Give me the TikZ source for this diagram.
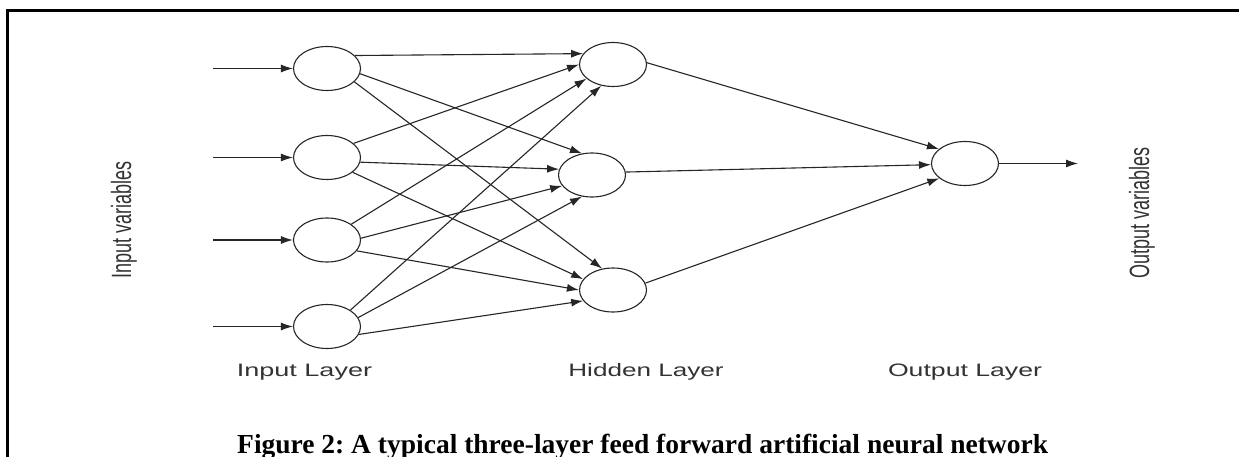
\documentclass[tikz,border=0pt]{standalone}
\usepackage{fontspec}
\usepackage{graphicx}
\setmainfont{Liberation Serif}
\newfontfamily\labfont{Liberation Sans}
\usetikzlibrary{arrows.meta,shapes.geometric}
\frenchspacing
\begin{document}
\begin{tikzpicture}[x=1pt,y=-1pt,
  neuron/.style={draw=black!85, line width=1.1pt, ellipse, minimum width=67pt, minimum height=44pt, inner sep=0pt},
  conn/.style={draw=black!85, line width=1.1pt, -{Latex[length=12pt,width=8pt]}},
  laylabel/.style={anchor=base, inner sep=0pt, font=\labfont\fontsize{18pt}{20pt}\selectfont, text=black!80},
  varlabel/.style={rotate=90, inner sep=0pt, font=\labfont\fontsize{18pt}{20pt}\selectfont, text=black!80},
  caplabel/.style={anchor=base west, inner sep=0pt, font=\bfseries\fontsize{27.5pt}{30pt}\selectfont}]
\useasboundingbox (0,0) rectangle (1239,457);
\fill[white] (0,0) rectangle (1239,457);
% frame
\draw[line width=2.5pt] (7.5,458) -- (7.5,10.5) -- (1240,10.5);
% neurons
\node[neuron] (i1) at (327,68.5) {};
\node[neuron] (i2) at (327,157.5) {};
\node[neuron] (i3) at (327,240) {};
\node[neuron] (i4) at (327,326.5) {};
\node[neuron] (h1) at (613,64.5) {};
\node[neuron] (h2) at (592,175) {};
\node[neuron] (h3) at (613,290) {};
\node[neuron] (o) at (965,163.5) {};
% free ends
\coordinate (in1) at (213,68.5);
\coordinate (in2) at (213,157.5);
\coordinate (in3) at (213,240);
\coordinate (in4) at (213,326.5);
\coordinate (out) at (1078,163.5);
% input arrows
\draw[conn] (in1) -- (i1);
\draw[conn] (in2) -- (i2);
\draw[conn] (in3) -- (i3);
\draw[conn] (in4) -- (i4);
% input -> hidden
\draw[conn] (i1.25) -- (h1.160);
\draw[conn] (i1.-9) -- (h2.115);
\draw[conn] (i1.-26) -- (h3.117);
\draw[conn] (i2.28) -- (h1.180);
\draw[conn] (i2.-8) -- (h2.170);
\draw[conn] (i2.-30) -- (h3.160);
\draw[conn] (i3.33) -- (h1.208);
\draw[conn] (i3.3) -- (h2.200);
\draw[conn] (i3.-20) -- (h3.180);
\draw[conn] (i4.35) -- (h1.241);
\draw[conn] (i4.16) -- (h2.245);
\draw[conn] (i4.-14) -- (h3.200);
% hidden -> output
\draw[conn] (h1.3) -- (o.151);
\draw[conn] (h2.5) -- (o.182);
\draw[conn] (h3.12) -- (o.210);
% output arrow
\draw[conn] (o) -- (out);
% labels
\node[varlabel] (lin) at (124,220) {\scalebox{1}[1.55]{Input variables}};
\node[varlabel] (lout) at (1142,213) {\scalebox{1}[1.55]{Output variables}};
\node[laylabel] (linl) at (304.5,376) {\scalebox{1.5}[1]{Input Layer}};
\node[laylabel] (lhid) at (646,376) {\scalebox{1.45}[1]{Hidden Layer}};
\node[laylabel] (loutl) at (965,376) {\scalebox{1.48}[1]{Output Layer}};
\node[caplabel] (cap) at (237,453) {Figure 2: A typical three-layer feed forward artificial neural network};
\end{tikzpicture}
\end{document}
